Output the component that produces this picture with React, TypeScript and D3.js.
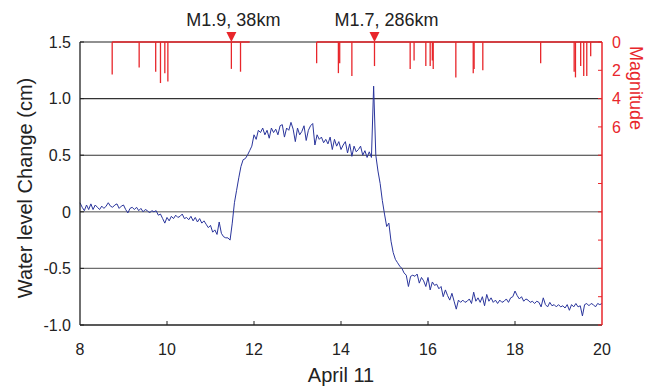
import React from "react";
import * as d3 from "d3";

// Water level change (cm), sampled every 0.05 h from 8.00 to 20.00 (April 11)
const startHour = 8;
const stepHour = 0.05;
const waterLevel: number[] = [
  // 8
  0.08, 0.04, 0.01, 0.06, 0.02, 0.07, 0.02, 0.06, 0.04, 0.02, 0.05, 0.03, 0.05, 0.08, 0.05, 0.04, 0.06, 0.07, 0.03, 0.05,
  // 9
  0.06, 0.02, -0.01, 0.03, 0.04, 0.02, 0.04, 0.01, 0.03, 0.0, 0.02, 0.01, -0.01, 0.01, 0.0, 0.01, -0.03, -0.02, -0.06, -0.1,
  // 10
  -0.05, -0.08, -0.04, -0.06, -0.03, -0.05, -0.04, -0.02, -0.06, -0.05, -0.07, -0.04, -0.08, -0.05, -0.09, -0.06, -0.1, -0.08, -0.11, -0.14,
  // 11
  -0.12, -0.18, -0.16, -0.2, -0.09, -0.19, -0.22, -0.23, -0.23, -0.25, -0.1, 0.08, 0.19, 0.3, 0.4, 0.46, 0.47, 0.5, 0.54, 0.58,
  // 12
  0.68, 0.64, 0.72, 0.7, 0.74, 0.68, 0.72, 0.65, 0.74, 0.7, 0.73, 0.68, 0.76, 0.77, 0.66, 0.74, 0.72, 0.79, 0.73, 0.62,
  // 13
  0.74, 0.68, 0.71, 0.76, 0.63, 0.72, 0.76, 0.78, 0.59, 0.68, 0.64, 0.66, 0.61, 0.64, 0.6, 0.66, 0.55, 0.64, 0.58, 0.62,
  // 14
  0.55, 0.59, 0.62, 0.52, 0.6, 0.49, 0.58, 0.53, 0.55, 0.58, 0.5, 0.54, 0.48, 0.53, 0.48, 1.11, 0.5, 0.36, 0.25, 0.1,
  // 15
  -0.02, -0.13, -0.1, -0.26, -0.36, -0.42, -0.45, -0.48, -0.5, -0.54, -0.56, -0.66, -0.57, -0.56, -0.57, -0.55, -0.63, -0.58, -0.61, -0.66,
  // 16
  -0.58, -0.69, -0.62, -0.65, -0.64, -0.68, -0.66, -0.75, -0.69, -0.74, -0.78, -0.72, -0.79, -0.86, -0.78, -0.8, -0.78, -0.8, -0.79, -0.77,
  // 17
  -0.81, -0.71, -0.79, -0.76, -0.8, -0.75, -0.83, -0.73, -0.79, -0.76, -0.8, -0.78, -0.81, -0.78, -0.8, -0.79, -0.77, -0.8, -0.76, -0.75,
  // 18
  -0.7, -0.74, -0.77, -0.75, -0.79, -0.77, -0.78, -0.8, -0.79, -0.81, -0.79, -0.8, -0.84, -0.76, -0.82, -0.84, -0.8, -0.83, -0.82, -0.84,
  // 19
  -0.82, -0.84, -0.83, -0.85, -0.82, -0.87, -0.82, -0.84, -0.81, -0.84, -0.83, -0.92, -0.82, -0.81, -0.83, -0.81, -0.82, -0.84, -0.81, -0.82,
  // 20
  -0.81,
];

// Earthquake events (hour, magnitude)
const eventHours: number[] = [
  8.74, 9.36, 9.74, 9.85, 9.95, 10.02, 11.48, 11.69, 13.44, 13.94, 13.97, 14.25, 14.77, 15.59, 15.68,
  15.95, 16.05, 16.1, 16.12, 16.64, 17.04, 17.06, 17.26, 18.59, 19.36, 19.39, 19.51, 19.58, 19.65, 19.74,
];
const eventMagnitudes: number[] = [
  2.3, 1.8, 2.1, 2.9, 2.2, 2.8, 1.9, 2.1, 1.5, 2.2, 1.5, 2.4, 1.7, 1.9, 1.3,
  1.7, 1.7, 1.3, 1.9, 2.5, 2.2, 1.9, 2.0, 1.5, 2.1, 2.5, 1.7, 2.4, 2.4, 1.0,
];
const baselineSpans: [number, number][] = [
  [8.74, 11.9],
  [13.44, 20],
];

// Highlighted events
const markedHours: number[] = [11.48, 14.77];
const markedLabels: string[] = ["M1.9, 38km", "M1.7, 286km"];
const markedLabelShift: number[] = [2, 12];

const xTicks: number[] = [8, 10, 12, 14, 16, 18, 20];
const yTicks: number[] = [1.5, 1.0, 0.5, 0, -0.5, -1.0];
const yTickLabels: string[] = ["1.5", "1.0", "0.5", "0", "-0.5", "-1.0"];
const gridValues: number[] = [1.0, 0.5, 0, -0.5];
const magTicks: number[] = [0, 2, 4, 6, 8, 10, 12, 14, 16, 18, 20];
const magTickLabels: string[] = ["0", "2", "4", "6"];

const W = 652;
const H = 389;
const L = 80;
const R = 602;
const T = 42;
const B = 325;
const FONT = "'Liberation Sans', Arial, Helvetica, sans-serif";
const RED = "#e8262b";
const BLUE = "#2a359c";

export default function App() {
  const x = d3.scaleLinear().domain([8, 20]).range([L, R]);
  const y = d3.scaleLinear().domain([-1, 1.5]).range([B, T]);
  const m = d3.scaleLinear().domain([0, 20]).range([T, B]);

  const pts: [number, number][] = waterLevel.map((v, i) => [startHour + i * stepHour, v]);
  const line = d3
    .line<[number, number]>()
    .x((d) => x(d[0]))
    .y((d) => y(d[1]));

  const gridColor = (v: number) => (v === 0 ? "#8a8a8a" : v < 0 ? "#6e6e6e" : "#333");
  const gridWidth = (v: number) => (v === 0 ? 1.6 : 1.1);

  return (
    <svg
      width={W}
      height={H}
      style={{ position: "absolute", left: 0, top: 0, background: "#fff" }}
      fontFamily={FONT}
    >
      <rect x={0} y={0} width={W} height={H} fill="#fff" />
      {/* grid lines */}
      {gridValues.map((v) => (
        <line key={v} x1={L} x2={R} y1={y(v)} y2={y(v)} stroke={gridColor(v)} strokeWidth={gridWidth(v)} />
      ))}
      {/* top frame */}
      <line x1={L} x2={R} y1={T} y2={T} stroke="#222" strokeWidth={1.2} />

      {/* water level */}
      <path d={line(pts) || ""} fill="none" stroke={BLUE} strokeWidth={1} strokeLinejoin="round" />

      {/* magnitude baselines and stems */}
      {baselineSpans.map((s, i) => (
        <line key={"b" + i} x1={x(s[0])} x2={x(s[1])} y1={m(0)} y2={m(0)} stroke={RED} strokeWidth={1.4} />
      ))}
      {eventHours.map((h, i) => (
        <line
          key={"e" + i}
          x1={x(h)}
          x2={x(h)}
          y1={m(0)}
          y2={m(eventMagnitudes[i])}
          stroke={RED}
          strokeWidth={1.3}
        />
      ))}

      {/* markers */}
      {markedHours.map((h, i) => {
        const cx = x(h);
        return (
          <g key={"mk" + i}>
            <path d={`M${cx - 5},${T - 10} L${cx + 5},${T - 10} L${cx},${T} Z`} fill={RED} />
            <text
              x={cx + markedLabelShift[i]}
              y={26}
              textAnchor="middle"
              fontSize={18}
              fill="#222"
            >
              {markedLabels[i]}
            </text>
          </g>
        );
      })}

      {/* left axis */}
      <line x1={L} x2={L} y1={T} y2={B} stroke="#222" strokeWidth={1.3} />
      {yTicks.map((v, i) => (
        <g key={"yt" + i}>
          <line x1={L} x2={L + 4} y1={y(v)} y2={y(v)} stroke="#222" strokeWidth={1} />
          <text x={L - 9} y={y(v)} dy="0.36em" textAnchor="end" fontSize={16} fill="#222">
            {yTickLabels[i]}
          </text>
        </g>
      ))}

      {/* bottom axis */}
      <line x1={L} x2={R} y1={B} y2={B} stroke="#222" strokeWidth={1.6} />
      {xTicks.map((v) => (
        <g key={"xt" + v}>
          {v > 8 && v < 20 && <line x1={x(v)} x2={x(v)} y1={B} y2={B - 4} stroke="#222" strokeWidth={1} />}
          <text x={x(v)} y={355} textAnchor="middle" fontSize={16} fill="#222">
            {v}
          </text>
        </g>
      ))}

      {/* right magnitude axis */}
      <line x1={R} x2={R} y1={T} y2={B} stroke={RED} strokeWidth={1.5} />
      {magTicks.map((v) => (
        <line key={"mt" + v} x1={R - 4} x2={R} y1={m(v)} y2={m(v)} stroke={RED} strokeWidth={1} />
      ))}
      {magTickLabels.map((s) => (
        <text key={"ml" + s} x={R + 10} y={m(+s)} dy="0.36em" fontSize={16} fill={RED}>
          {s}
        </text>
      ))}

      {/* axis titles */}
      <text x={341} y={382} textAnchor="middle" fontSize={20} fill="#222">
        April 11
      </text>
      <text
        transform={`translate(32,188) rotate(-90)`}
        textAnchor="middle"
        fontSize={20}
        fill="#222"
      >
        Water level Change (cm)
      </text>
      <text transform={`translate(630,88) rotate(90)`} textAnchor="middle" fontSize={18} fill={RED}>
        Magnitude
      </text>
    </svg>
  );
}
